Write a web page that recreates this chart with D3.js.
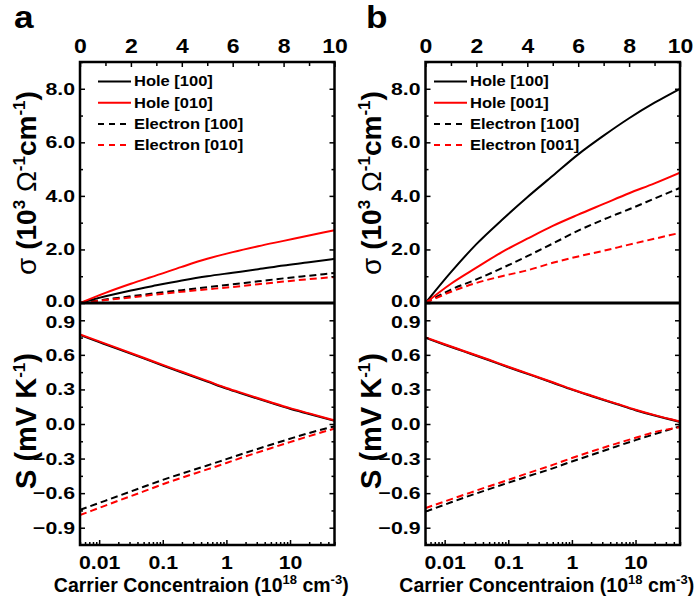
<!DOCTYPE html>
<html><head><meta charset="utf-8">
<script src="https://cdn.jsdelivr.net/npm/d3@7/dist/d3.min.js"></script>
<style>
body{margin:0;background:#fff;}
text{font-family:"Liberation Sans",Arial,sans-serif;font-weight:bold;fill:#000;}
</style></head>
<body><svg id="chart" width="697" height="599"></svg>
<script>
// ---------- data ----------
const sigmaX = [0,1,2,3,4,5,6,7,8,9,10];
const sigA_hole100 = [0,0.25,0.47,0.66,0.84,1.0,1.13,1.26,1.40,1.52,1.65];
const sigA_hole010 = [0,0.38,0.72,1.03,1.35,1.65,1.9,2.12,2.32,2.52,2.72];
const sigA_elec100 = [0,0.13,0.25,0.37,0.48,0.59,0.7,0.81,0.92,1.02,1.12];
const sigA_elec010 = [0,0.11,0.21,0.32,0.42,0.51,0.6,0.7,0.8,0.89,0.97];
const sigB_hole100 = [0,1.15,2.2,3.1,3.95,4.75,5.55,6.25,6.9,7.48,8.0];
const sigB_hole001 = [0,0.72,1.32,1.9,2.4,2.88,3.3,3.7,4.1,4.47,4.87];
const sigB_elec100 = [0,0.5,0.88,1.3,1.75,2.22,2.7,3.12,3.5,3.9,4.3];
const sigB_elec001 = [0,0.42,0.75,1.0,1.22,1.5,1.74,1.95,2.18,2.4,2.62];

const carrierN = [0.005,0.01,0.02,0.05,0.1,0.2,0.5,1,2,5,10,20,50];
const seeA_hole100 = [0.772,0.711,0.650,0.569,0.507,0.447,0.368,0.307,0.253,0.183,0.132,0.087,0.027];
const seeA_hole010 = [0.778,0.717,0.656,0.575,0.513,0.453,0.374,0.313,0.259,0.189,0.138,0.092,0.032];
const seeA_elec100 = [-0.745,-0.685,-0.625,-0.545,-0.485,-0.43,-0.36,-0.305,-0.25,-0.18,-0.128,-0.078,-0.02];
const seeA_elec010 = [-0.79,-0.728,-0.666,-0.585,-0.523,-0.466,-0.394,-0.338,-0.281,-0.21,-0.157,-0.105,-0.04];
const seeB_hole100 = [0.748,0.688,0.630,0.553,0.493,0.435,0.358,0.298,0.243,0.173,0.120,0.073,0.018];
const seeB_hole001 = [0.752,0.692,0.634,0.557,0.497,0.439,0.362,0.302,0.247,0.177,0.124,0.077,0.022];
const seeB_elec100 = [-0.76,-0.70,-0.64,-0.565,-0.51,-0.455,-0.385,-0.325,-0.27,-0.195,-0.14,-0.088,-0.02];
const seeB_elec001 = [-0.73,-0.672,-0.615,-0.54,-0.485,-0.428,-0.355,-0.295,-0.24,-0.17,-0.12,-0.07,-0.028];

const legendA = ["Hole [100]","Hole [010]","Electron [100]","Electron [010]"];
const legendB = ["Hole [100]","Hole [001]","Electron [100]","Electron [001]"];
const sigmaTicks = [0,2,4,6,8];
const sigmaMinor = [1,3,5,7,9];
const topTicks = [0,2,4,6,8,10];
const topMinor = [1,3,5,7,9];
const seeTicks = [-0.9,-0.6,-0.3,0,0.3,0.6,0.9];
const seeMinor = [-0.75,-0.45,-0.15,0.15,0.45,0.75];
const logTicks = [0.01,0.1,1,10];

// ---------- layout ----------
const svg = d3.select("#chart");
const T = 62, M = 303, B = 545;
const colors = ["#000","#ff0000","#000","#ff0000"];
const dashes = [null,null,"7,4","7,4"];
const tickSX = 1.25;

function stretch(sel, sx){
  sel.each(function(){
    const t = d3.select(this);
    const x = +t.attr("x")||0, y = +t.attr("y")||0;
    t.attr("transform", `translate(${x},${y}) scale(${sx},1) translate(${-x},${-y})`);
  });
}

const panels = [
  {tag:"a", L:80, R:334.5, legend:legendA, legOff:18, titleX:36,
   sig:[sigA_hole100,sigA_hole010,sigA_elec100,sigA_elec010],
   see:[seeA_hole100,seeA_hole010,seeA_elec100,seeA_elec010]},
  {tag:"b", L:425.5, R:680, legend:legendB, legOff:8.5, titleX:381,
   sig:[sigB_hole100,sigB_hole001,sigB_elec100,sigB_elec001],
   see:[seeB_hole100,seeB_hole001,seeB_elec100,seeB_elec001]}
];

panels.forEach(p => {
  const g = svg.append("g");
  const xl = d3.scaleLinear().domain([0,10]).range([p.L,p.R]);
  const ys = d3.scaleLinear().domain([0,9]).range([M,T]);
  const xg = d3.scaleLog().domain([0.005,50]).range([p.L,p.R]);
  const yS = d3.scaleLinear().domain([-1.05,1.05]).range([B,M]);

  const cid = "clip"+p.tag;
  svg.append("clipPath").attr("id",cid+"t").append("rect").attr("x",p.L).attr("y",T).attr("width",p.R-p.L).attr("height",M-T);
  svg.append("clipPath").attr("id",cid+"b").append("rect").attr("x",p.L).attr("y",M).attr("width",p.R-p.L).attr("height",B-M);

  const lineT = d3.line().x((d,i)=>xl(sigmaX[i])).y(d=>ys(d)).curve(d3.curveMonotoneX);
  [2,3,0,1].forEach(k => {
    g.append("path").attr("d", lineT(p.sig[k])).attr("fill","none")
      .attr("stroke",colors[k]).attr("stroke-width",2).attr("stroke-dasharray",dashes[k])
      .attr("clip-path",`url(#${cid}t)`);
  });
  const lineB = d3.line().x((d,i)=>xg(carrierN[i])).y(d=>yS(d)).curve(d3.curveMonotoneX);
  [0,1,2,3].forEach(k => {
    g.append("path").attr("d", lineB(p.see[k])).attr("fill","none")
      .attr("stroke",colors[k]).attr("stroke-width",2).attr("stroke-dasharray",dashes[k])
      .attr("clip-path",`url(#${cid}b)`);
  });

  const ax = (sel)=>{ sel.select(".domain").remove(); sel.selectAll("line").attr("stroke","#000").attr("stroke-width",1.5); };
  const topAx = g.append("g").attr("transform",`translate(0,${T})`)
     .call(d3.axisTop(xl).tickValues(topTicks).tickSize(-5).tickPadding(9).tickFormat(d3.format("d")));
  ax(topAx);
  topAx.selectAll("text").attr("font-size",20).call(stretch,1.15);
  ax(g.append("g").attr("transform",`translate(0,${T})`)
     .call(d3.axisTop(xl).tickValues(topMinor).tickSize(-4).tickFormat("")));

  const lAx = g.append("g").attr("transform",`translate(${p.L},0)`)
     .call(d3.axisLeft(ys).tickValues(sigmaTicks).tickSize(-5).tickPadding(5).tickFormat(d3.format(".1f")));
  ax(lAx);
  lAx.selectAll("text").attr("font-size",17).attr("y",d=>d===0?-1.5:0).call(stretch,tickSX);
  ax(g.append("g").attr("transform",`translate(${p.L},0)`)
     .call(d3.axisLeft(ys).tickValues(sigmaMinor).tickSize(-3).tickFormat("")));
  ax(g.append("g").attr("transform",`translate(${p.R},0)`)
     .call(d3.axisRight(ys).tickValues(sigmaTicks.filter(v=>v>0)).tickSize(-5).tickFormat("")));
  ax(g.append("g").attr("transform",`translate(${p.R},0)`)
     .call(d3.axisRight(ys).tickValues(sigmaMinor).tickSize(-3).tickFormat("")));

  const lAx2 = g.append("g").attr("transform",`translate(${p.L},0)`)
     .call(d3.axisLeft(yS).tickValues(seeTicks).tickSize(-5).tickPadding(5).tickFormat(d3.format(".1f")));
  ax(lAx2);
  lAx2.selectAll("text").attr("font-size",17).attr("y",d=>d===0.9?1.5:0).call(stretch,tickSX);
  ax(g.append("g").attr("transform",`translate(${p.L},0)`)
     .call(d3.axisLeft(yS).tickValues(seeMinor).tickSize(-3).tickFormat("")));
  ax(g.append("g").attr("transform",`translate(${p.R},0)`)
     .call(d3.axisRight(yS).tickValues(seeTicks).tickSize(-5).tickFormat("")));
  ax(g.append("g").attr("transform",`translate(${p.R},0)`)
     .call(d3.axisRight(yS).tickValues(seeMinor).tickSize(-3).tickFormat("")));

  const bAx = g.append("g").attr("transform",`translate(0,${B})`)
     .call(d3.axisBottom(xg).tickValues(logTicks).tickSize(-5).tickPadding(11).tickFormat(d=>String(d)));
  ax(bAx);
  bAx.selectAll("text").attr("font-size",19).call(stretch,1.12);
  const minorLog = xg.ticks().filter(v => !logTicks.includes(v));
  ax(g.append("g").attr("transform",`translate(0,${B})`)
     .call(d3.axisBottom(xg).tickValues(minorLog).tickSize(-3).tickFormat("")));

  g.append("rect").attr("x",p.L).attr("y",T).attr("width",p.R-p.L).attr("height",B-T)
    .attr("fill","none").attr("stroke","#000").attr("stroke-width",2.5);
  g.append("line").attr("x1",p.L).attr("x2",p.R).attr("y1",ys(0)).attr("y2",ys(0))
    .attr("stroke","#000").attr("stroke-width",3);

  const leg = g.append("g");
  p.legend.forEach((name,i) => {
    const yy = 81.5 + i*21.2;
    leg.append("line").attr("x1",p.L+p.legOff).attr("x2",p.L+p.legOff+33).attr("y1",yy).attr("y2",yy)
      .attr("stroke",colors[i]).attr("stroke-width",2).attr("stroke-dasharray",dashes[i]?"6,5":null);
    leg.append("text").attr("x",p.L+p.legOff+36).attr("y",yy+5).attr("font-size",14).text(name)
      .call(stretch,1.18);
  });

  const t1 = g.append("text").attr("transform",`translate(${p.titleX},${183}) rotate(-90)`)
     .attr("text-anchor","middle").attr("font-size",28);
  t1.append("tspan").attr("font-weight","normal").text("σ ");
  t1.append("tspan").text("(10");
  t1.append("tspan").attr("font-size",17).attr("dy",-11).text("3");
  t1.append("tspan").attr("dy",11).attr("font-weight","normal").text(" Ω");
  t1.append("tspan").attr("font-size",17).attr("dy",-11).text("-1");
  t1.append("tspan").attr("dy",11).text("cm");
  t1.append("tspan").attr("font-size",17).attr("dy",-11).text("-1");
  t1.append("tspan").attr("dy",11).text(")");

  const t2 = g.append("text").attr("transform",`translate(${p.titleX},${421}) rotate(-90)`)
     .attr("text-anchor","middle").attr("font-size",29);
  t2.append("tspan").text("S  (mV K");
  t2.append("tspan").attr("font-size",17).attr("dy",-11).text("-1");
  t2.append("tspan").attr("dy",11).text(")");

  const t3 = g.append("text").attr("x",(p.L+p.R)/2-6).attr("y",592).attr("text-anchor","middle").attr("font-size",19.5);
  t3.append("tspan").text("Carrier Concentraion (10");
  t3.append("tspan").attr("font-size",13).attr("dy",-8).text("18");
  t3.append("tspan").attr("dy",8).text(" cm");
  t3.append("tspan").attr("font-size",13).attr("dy",-8).text("-3");
  t3.append("tspan").attr("dy",8).text(")");

  g.append("text").attr("x",p.tag==="a"?14:366).attr("y",28).attr("font-size",32).text(p.tag).call(stretch,1.1);
});
</script></body></html>
